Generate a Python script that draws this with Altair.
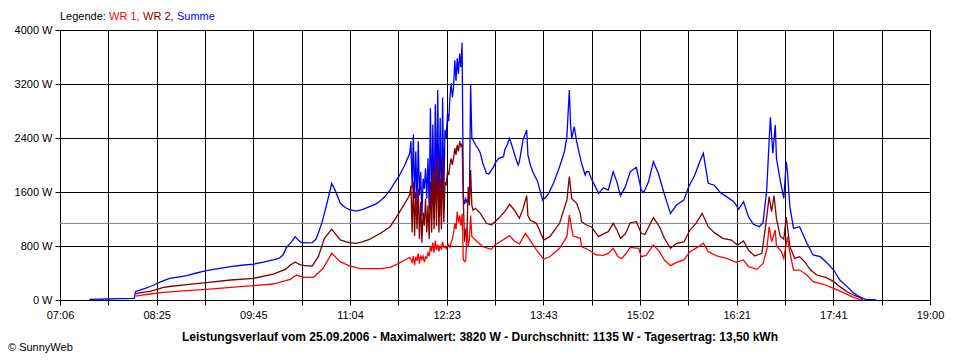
import altair as alt
import pandas as pd

FONT = "Liberation Sans"

TICK_LABELS = ["07:06", "08:25", "09:45", "11:04", "12:23", "13:43", "15:02", "16:21", "17:41", "19:00"]
Y_TICKS = [0, 800, 1600, 2400, 3200, 4000]
AVERAGE_W = 1135
TITLE = ("Leistungsverlauf vom 25.09.2006 - Maximalwert: 3820 W - Durchschnitt: 1135 W"
         " - Tagesertrag: 13,50 kWh")
LEGEND_PARTS = ["Legende:", "WR 1,", "WR 2,", "Summe"]
COPYRIGHT = "\u00a9 SunnyWeb"
SERIES = ["WR 1", "WR 2", "Summe"]
COLORS = ["#ff0000", "#800000", "#0000ff"]

# ---- Summe (blue) ----
SUM_TIME = [
    "07:30", "07:45", "07:55", "08:07", "08:08", "08:12", "08:16", "08:20", "08:23", "08:30",
    "08:36", "08:43", "08:50", "08:58", "09:06", "09:16", "09:26", "09:35", "09:45", "09:53",
    "10:01", "10:06", "10:09", "10:12", "10:16", "10:19", "10:22", "10:24", "10:29", "10:33",
    "10:36", "10:38", "10:41", "10:43", "10:46", "10:49", "10:52", "10:56", "11:00", "11:03",
    "11:09", "11:14", "11:20", "11:25", "11:29", "11:33", "11:37", "11:40", "11:44", "11:49",
    "11:53", "11:54", "11:55", "11:56", "11:57", "11:58", "11:59", "12:00", "12:01", "12:02",
    "12:03", "12:04", "12:05", "12:06", "12:07", "12:08", "12:09", "12:10", "12:11", "12:12",
    "12:13", "12:14", "12:15", "12:16", "12:17", "12:18", "12:19", "12:20", "12:21", "12:22",
    "12:23", "12:24", "12:25", "12:26", "12:27", "12:28", "12:29", "12:30", "12:31", "12:32",
    "12:33", "12:34", "12:35", "12:36", "12:37", "12:38", "12:39", "12:40", "12:41", "12:42",
    "12:43", "12:44", "12:45", "12:47", "12:49", "12:51", "12:53", "12:56", "12:58", "13:00",
    "13:02", "13:03", "13:06", "13:10", "13:11", "13:13", "13:15", "13:18", "13:20", "13:22",
    "13:23", "13:26", "13:29", "13:30", "13:32", "13:34", "13:38", "13:41", "13:42", "13:45",
    "13:47", "13:51", "13:56", "14:00", "14:02", "14:04", "14:05", "14:06", "14:08", "14:10",
    "14:14", "14:17", "14:18", "14:20", "14:22", "14:24", "14:28", "14:30", "14:32", "14:36",
    "14:40", "14:43", "14:46", "14:50", "14:54", "14:59", "15:03", "15:05", "15:09", "15:13",
    "15:17", "15:21", "15:24", "15:27", "15:32", "15:38", "15:42", "15:47", "15:51", "15:54",
    "15:58", "16:03", "16:08", "16:13", "16:19", "16:23", "16:27", "16:31", "16:35", "16:40",
    "16:43", "16:46", "16:48", "16:49", "16:51", "16:53", "16:54", "16:57", "17:00", "17:02",
    "17:03", "17:05", "17:08", "17:13", "17:19", "17:24", "17:30", "17:35", "17:41", "17:46",
    "17:52", "17:57", "18:02", "18:07", "18:16",
]
SUM_W = [
    10, 15, 20, 25, 123, 150, 173, 200, 222, 280,
    321, 340, 360, 400, 434, 465, 494, 515, 533, 560,
    593, 620, 667, 780, 860, 938, 880, 854, 845, 849,
    900, 988, 1150, 1284, 1500, 1728, 1620, 1432, 1370, 1343,
    1318, 1340, 1383, 1420, 1471, 1540, 1630, 1720, 1827, 2000,
    2173, 2350, 1650, 2450, 1500, 2200, 1400, 2350, 1550, 1900,
    1250, 1800, 1650, 1950, 1500, 2100, 1350, 2840, 1400, 2600,
    1200, 2900, 1500, 3111, 1300, 2700, 1250, 3000, 1600, 2519,
    2400, 2766, 2650, 3000, 3210, 3000, 3150, 3550, 3250, 3580,
    3350, 3650, 3450, 3812, 1530, 1420, 1500, 1450, 1480, 1500,
    3185, 2400, 2370, 2300, 2247, 2173, 2025, 1877, 1867, 1920,
    1975, 2025, 2099, 2123, 2222, 2300, 2395, 2222, 2100, 2000,
    2050, 2370, 2519, 2148, 2000, 1901, 1753, 1550, 1481, 1530,
    1580, 1728, 1975, 2200, 2420, 3111, 2600, 2395, 2568, 2346,
    2025, 1852, 1900, 1901, 1800, 1728, 1580, 1620, 1664, 1630,
    1901, 1750, 1546, 1679, 1901, 1966, 1630, 1590, 1753, 2049,
    1877, 1630, 1450, 1284, 1407, 1481, 1679, 1852, 2049, 2173,
    1728, 1700, 1590, 1531, 1457, 1348, 1457, 1234, 1121, 1086,
    1150, 1630, 2370, 2706, 2173, 2593, 2100, 1778, 1506, 2049,
    1900, 1383, 1062, 1086, 840, 667, 642, 558, 444, 296,
    198, 109, 49, 10, 0,
]

# ---- WR 2 (dark red) ----
WR2_TIME = [
    "08:08", "08:12", "08:20", "08:31", "08:36", "08:50", "09:06", "09:26", "09:45", "10:01",
    "10:11", "10:15", "10:19", "10:22", "10:24", "10:29", "10:33", "10:38", "10:43", "10:49",
    "10:56", "11:03", "11:09", "11:14", "11:20", "11:29", "11:37", "11:44", "11:49", "11:53",
    "11:54", "11:55", "11:56", "11:57", "11:58", "11:59", "12:00", "12:01", "12:02", "12:03",
    "12:04", "12:05", "12:06", "12:07", "12:08", "12:09", "12:10", "12:11", "12:12", "12:13",
    "12:14", "12:15", "12:16", "12:17", "12:18", "12:19", "12:20", "12:21", "12:22", "12:23",
    "12:24", "12:25", "12:26", "12:27", "12:28", "12:29", "12:30", "12:31", "12:32", "12:33",
    "12:34", "12:35", "12:36", "12:37", "12:38", "12:39", "12:40", "12:41", "12:42", "12:43",
    "12:44", "12:45", "12:47", "12:51", "12:56", "13:00", "13:06", "13:11", "13:15", "13:19",
    "13:23", "13:26", "13:29", "13:30", "13:32", "13:37", "13:43", "13:48", "13:56", "14:02",
    "14:04", "14:06", "14:10", "14:13", "14:14", "14:18", "14:22", "14:28", "14:32", "14:36",
    "14:40", "14:43", "14:46", "14:50", "14:54", "14:59", "15:03", "15:06", "15:13", "15:18",
    "15:22", "15:27", "15:32", "15:38", "15:43", "15:48", "15:53", "15:58", "16:03", "16:10",
    "16:17", "16:22", "16:27", "16:31", "16:36", "16:42", "16:45", "16:48", "16:50", "16:52",
    "16:54", "16:57", "17:00", "17:02", "17:05", "17:09", "17:13", "17:17", "17:22", "17:27",
    "17:35", "17:41", "17:46", "17:52", "17:57", "18:02", "18:05",
]
WR2_W = [
    89, 110, 128, 188, 200, 227, 257, 296, 321, 385,
    454, 520, 563, 530, 518, 505, 504, 642, 914, 1047,
    889, 849, 840, 860, 899, 988, 1086, 1284, 1432, 1556,
    1700, 1000, 1750, 950, 1600, 1050, 1650, 900, 1450, 850,
    1300, 1100, 1500, 1000, 1400, 900, 1750, 1000, 1900, 1050,
    2000, 1100, 2150, 1000, 1800, 1050, 2100, 1150, 1750, 1700,
    1900, 1850, 2000, 2100, 2000, 2100, 2250, 2150, 2300, 2200,
    2350, 2280, 2320, 1480, 864, 1037, 1000, 1679, 1400, 1926,
    1400, 1330, 1358, 1284, 1136, 1111, 1210, 1308, 1417, 1330,
    1210, 1350, 1546, 1250, 1180, 1136, 889, 938, 1136, 1481,
    1827, 1500, 1432, 1284, 1160, 1111, 1086, 938, 980, 1012,
    1136, 1040, 914, 980, 1145, 1160, 988, 970, 1220, 1086,
    914, 765, 840, 860, 1037, 1136, 1284, 1086, 998, 914,
    889, 815, 874, 741, 652, 691, 1086, 1531, 1308, 1546,
    1200, 950, 900, 1234, 790, 617, 642, 568, 444, 370,
    331, 272, 198, 123, 74, 40, 0,
]

# ---- WR 1 (red) ----
WR1_TIME = [
    "08:08", "08:12", "08:20", "08:31", "08:50", "09:06", "09:26", "09:45", "10:01", "10:11",
    "10:15", "10:20", "10:26", "10:34", "10:42", "10:49", "10:56", "11:03", "11:12", "11:20",
    "11:29", "11:37", "11:44", "11:49", "11:53", "11:54", "11:55", "11:56", "11:57", "11:58",
    "11:59", "12:00", "12:01", "12:02", "12:03", "12:04", "12:05", "12:06", "12:07", "12:08",
    "12:09", "12:10", "12:11", "12:12", "12:13", "12:14", "12:15", "12:16", "12:17", "12:18",
    "12:19", "12:20", "12:21", "12:22", "12:23", "12:24", "12:25", "12:26", "12:27", "12:28",
    "12:29", "12:30", "12:31", "12:32", "12:33", "12:34", "12:35", "12:36", "12:37", "12:38",
    "12:39", "12:40", "12:41", "12:42", "12:43", "12:44", "12:47", "12:53", "13:00", "13:03",
    "13:15", "13:19", "13:23", "13:28", "13:32", "13:37", "13:43", "13:48", "13:56", "14:02",
    "14:04", "14:07", "14:13", "14:14", "14:20", "14:26", "14:32", "14:36", "14:40", "14:44",
    "14:47", "14:51", "14:54", "15:01", "15:03", "15:07", "15:13", "15:18", "15:22", "15:27",
    "15:32", "15:38", "15:43", "15:50", "15:54", "15:58", "16:05", "16:13", "16:21", "16:27",
    "16:31", "16:38", "16:43", "16:46", "16:48", "16:50", "16:53", "16:54", "16:58", "17:00",
    "17:03", "17:05", "17:08", "17:13", "17:19", "17:24", "17:32", "17:41", "17:49", "17:56",
    "18:01", "18:03",
]
WR1_W = [
    59, 70, 89, 114, 138, 158, 188, 212, 237, 286,
    306, 370, 336, 336, 469, 691, 568, 509, 464, 464,
    464, 484, 543, 593, 627, 600, 560, 650, 520, 640,
    580, 690, 540, 660, 600, 650, 560, 640, 620, 700,
    650, 790, 720, 850, 700, 880, 740, 820, 720, 800,
    760, 860, 780, 790, 760, 800, 820, 780, 850, 900,
    1000, 1136, 1050, 1308, 1150, 1250, 1100, 1280, 600, 568,
    580, 1086, 800, 900, 1250, 938, 889, 790, 751, 815,
    953, 870, 830, 988, 880, 741, 603, 640, 765, 938,
    1259, 950, 914, 790, 741, 667, 660, 691, 765, 640,
    612, 700, 780, 765, 642, 660, 815, 716, 593, 509,
    558, 593, 716, 790, 840, 716, 652, 617, 558, 593,
    494, 454, 543, 741, 1086, 864, 1037, 800, 716, 617,
    938, 700, 444, 444, 370, 272, 237, 173, 109, 49,
    15, 0,
]


def to_min(s):
    h, m = s.split(":")
    return int(h) * 60 + int(m)


rows = []
for name, times, vals in [("Summe", SUM_TIME, SUM_W), ("WR 2", WR2_TIME, WR2_W), ("WR 1", WR1_TIME, WR1_W)]:
    for i, (t, v) in enumerate(zip(times, vals)):
        rows.append({"series": name, "t": to_min(t), "w": v, "i": i})
df = pd.DataFrame(rows)

t0 = to_min(TICK_LABELS[0])
t1 = to_min(TICK_LABELS[-1])
n = 2 * (len(TICK_LABELS) - 1)
step = (t1 - t0) / n
grid_vals = [t0 + step * k for k in range(n + 1)]
label_arr = [TICK_LABELS[k // 2] if k % 2 == 0 else "" for k in range(n + 1)]
label_expr = "[" + ",".join("'%s'" % s for s in label_arr) + "][round((datum.value-%d)/%f)]" % (t0, step)

x_enc = alt.X(
    "t:Q",
    scale=alt.Scale(domain=[t0, t1], nice=False, zero=False),
    axis=alt.Axis(
        values=grid_vals, labelExpr=label_expr, title=None,
        grid=True, gridColor="#000000", gridOpacity=1, gridWidth=1,
        domainColor="#000000", domainWidth=1, tickColor="#000000", tickSize=5,
        labelFont=FONT, labelFontSize=11, labelColor="#000000", labelPadding=4,
        labelFlush=False, labelOverlap=False,
    ),
)
y_enc = alt.Y(
    "w:Q",
    scale=alt.Scale(domain=[0, 4000], nice=False),
    axis=alt.Axis(
        values=Y_TICKS, labelExpr="datum.value + ' W'", title=None,
        grid=True, gridColor="#000000", gridOpacity=1, gridWidth=1,
        domainColor="#000000", domainWidth=1, tickColor="#000000", tickSize=5,
        labelFont=FONT, labelFontSize=11, labelColor="#000000", labelPadding=3,
        labelOverlap=False,
    ),
)

avg = alt.Chart(pd.DataFrame({"w": [AVERAGE_W]})).mark_rule(color="#808080", strokeWidth=1).encode(
    y=alt.Y("w:Q")
)

lines = alt.Chart(df).mark_line(strokeWidth=1.3, interpolate="linear").encode(
    x=x_enc,
    y=y_enc,
    color=alt.Color("series:N", scale=alt.Scale(domain=SERIES, range=COLORS), legend=None),
    detail="series:N",
    order="i:Q",
)

legend_x = [0, 49, 83, 117]
legend_colors = ["#000000", COLORS[0], COLORS[1], COLORS[2]]
legend_layers = []
for part, lx, col in zip(LEGEND_PARTS, legend_x, legend_colors):
    legend_layers.append(
        alt.Chart(pd.DataFrame({"s": [part]})).mark_text(
            align="left", baseline="middle", font=FONT, fontSize=11, color=col
        ).encode(text="s:N", x=alt.value(lx), y=alt.value(-13))
    )

title = alt.Chart(pd.DataFrame({"s": [TITLE]})).mark_text(
    align="center", baseline="middle", font=FONT, fontSize=12, fontWeight="bold", color="#000000"
).encode(text="s:N", x=alt.value(420), y=alt.value(307))

copyright_txt = alt.Chart(pd.DataFrame({"s": [COPYRIGHT]})).mark_text(
    align="left", baseline="middle", font=FONT, fontSize=11, color="#000000"
).encode(text="s:N", x=alt.value(-52), y=alt.value(318))

chart = alt.layer(avg, lines, *legend_layers, title, copyright_txt).properties(
    width=870,
    height=270,
    autosize=alt.AutoSizeParams(type="none"),
    padding={"left": 52, "top": 22, "right": 22, "bottom": 58},
    background="#ffffff",
).configure_view(stroke=None)

chart.save("out.html", embed_options={"renderer": "svg", "actions": False})
